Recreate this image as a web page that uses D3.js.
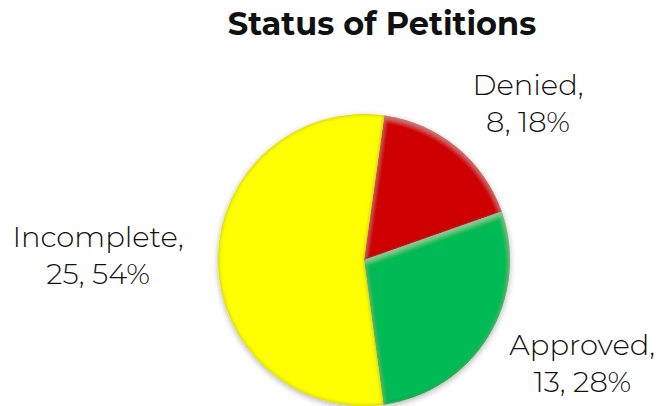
<!DOCTYPE html>
<html>
<head>
<meta charset="utf-8">
<script src="https://cdn.jsdelivr.net/npm/d3@7"></script>
<style>
  html, body { margin: 0; padding: 0; background: #fff; }
  svg { display: block; }
  text { font-family: "Montserrat", "DejaVu Sans", sans-serif; fill: #111; }
</style>
</head>
<body>
<svg id="chart" width="661" height="406"></svg>
<script>
// data
var categories = ["Denied", "Approved", "Incomplete"];
var counts = [8, 13, 25];
var percents = ["18%", "28%", "54%"];
var sliceColors = ["#cf0000", "#00bb55", "#ffff00"];
var edgeColors = ["#7a0000", "#006a2a", "#8a8a00"];
var shineOpacity = [0.2, 0.3, 0];

var chartTitle = "Status of Petitions";

// layout
var style = {
    cx: 364,
    cy: 260,
    radius: 146,
    startAngle: 8 * Math.PI / 180,
    labelRadius: [220, 246, 266],
    labelShift: [8.9, -4, -1.3],   // degrees, away from slice middle
    labelSize: 29,
    lineGap: 37
};

var svg = d3.select("#chart");
var defs = svg.append("defs");

// soft shadow round the pie
var shadow = defs.append("filter")
    .attr("id", "shadow")
    .attr("x", "-20%").attr("y", "-20%")
    .attr("width", "140%").attr("height", "140%");
shadow.append("feGaussianBlur").attr("in", "SourceAlpha").attr("stdDeviation", 3);
shadow.append("feOffset").attr("dx", 0).attr("dy", 2).attr("result", "blur");
shadow.append("feComponentTransfer").append("feFuncA").attr("type", "linear").attr("slope", 0.3);
var merge = shadow.append("feMerge");
merge.append("feMergeNode");
merge.append("feMergeNode").attr("in", "SourceGraphic");

// bevel: dark inner edge plus a light rim on the upper sides
categories.forEach(function(c, i) {
    var f = defs.append("filter")
        .attr("id", "bevel" + i)
        .attr("x", "-5%").attr("y", "-5%")
        .attr("width", "110%").attr("height", "110%");
    f.append("feGaussianBlur").attr("in", "SourceAlpha").attr("stdDeviation", 2.2).attr("result", "b");
    f.append("feComposite").attr("in", "SourceAlpha").attr("in2", "b").attr("operator", "out").attr("result", "edge");
    f.append("feFlood").attr("flood-color", edgeColors[i]).attr("flood-opacity", 0.75);
    f.append("feComposite").attr("in2", "edge").attr("operator", "in").attr("result", "dark");
    f.append("feOffset").attr("in", "b").attr("dx", 0).attr("dy", 3).attr("result", "bo");
    f.append("feComposite").attr("in", "SourceAlpha").attr("in2", "bo").attr("operator", "out").attr("result", "top");
    f.append("feFlood").attr("flood-color", "#ffffff").attr("flood-opacity", shineOpacity[i]);
    f.append("feComposite").attr("in2", "top").attr("operator", "in").attr("result", "light");
    var m = f.append("feMerge");
    m.append("feMergeNode").attr("in", "SourceGraphic");
    m.append("feMergeNode").attr("in", "dark");
    m.append("feMergeNode").attr("in", "light");
});

var pie = d3.pie()
    .sort(null)
    .startAngle(style.startAngle)
    .endAngle(style.startAngle + 2 * Math.PI)
    .value(function(d) { return d; });

var arc = d3.arc().innerRadius(0).outerRadius(style.radius);
var arcs = pie(counts);

var g = svg.append("g")
    .attr("transform", "translate(" + style.cx + "," + style.cy + ")");

var pieGroup = g.append("g").attr("filter", "url(#shadow)");

pieGroup.selectAll("path")
    .data(arcs)
    .enter()
    .append("path")
    .attr("d", arc)
    .attr("fill", function(d, i) { return sliceColors[i]; })
    .attr("filter", function(d, i) { return "url(#bevel" + i + ")"; });

// labels
var labels = g.selectAll("text.label")
    .data(arcs)
    .enter()
    .append("text")
    .attr("class", "label")
    .attr("text-anchor", "middle")
    .style("font-size", style.labelSize + "px")
    .style("font-weight", 300)
    .attr("transform", function(d, i) {
        var a = (d.startAngle + d.endAngle) / 2 + style.labelShift[i] * Math.PI / 180;
        var r = style.labelRadius[i];
        return "translate(" + (Math.sin(a) * r) + "," + (-Math.cos(a) * r) + ")";
    });

labels.append("tspan")
    .attr("x", 0)
    .attr("y", -style.lineGap / 2)
    .text(function(d, i) { return categories[i] + ","; });

labels.append("tspan")
    .attr("x", 0)
    .attr("y", style.lineGap / 2)
    .text(function(d, i) { return counts[i] + ", " + percents[i]; });

// title
svg.append("text")
    .attr("x", 382)
    .attr("y", 35)
    .attr("text-anchor", "middle")
    .style("font-size", "32px")
    .style("font-weight", "bold")
    .text(chartTitle);
</script>
</body>
</html>
